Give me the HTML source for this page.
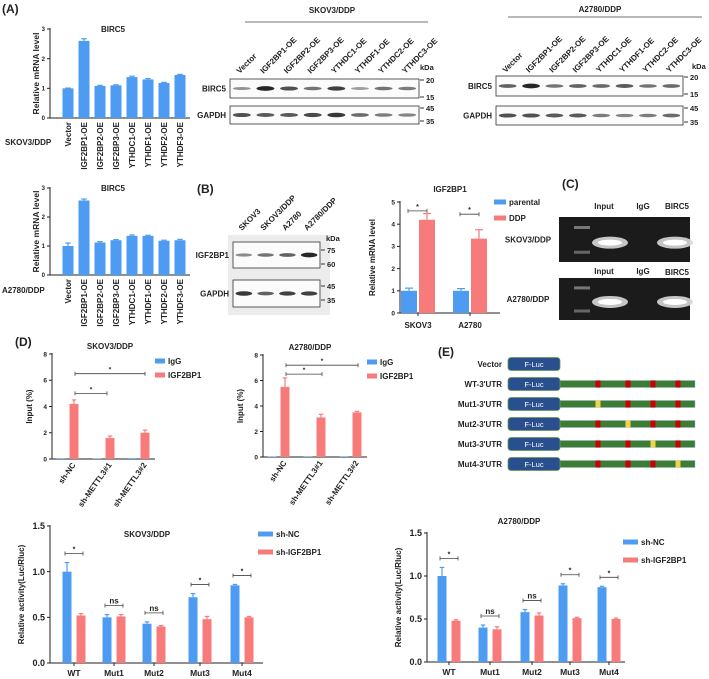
<!DOCTYPE html>
<html><head><meta charset="utf-8"><style>
html,body{margin:0;padding:0;background:#fff;}
svg{display:block;font-family:"Liberation Sans",Arial,sans-serif;}
text{font-weight:bold;fill:#222;}
</style></head><body>
<svg id="fig" width="709" height="679" viewBox="0 0 709 679" xmlns="http://www.w3.org/2000/svg">
<text x="2" y="13" font-size="12">(A)</text>
<text x="197" y="193" font-size="12" font-weight="normal">(B)</text>
<text x="562" y="188" font-size="12" font-weight="normal">(C)</text>
<text x="15" y="346" font-size="12" font-weight="normal">(D)</text>
<text x="438" y="356" font-size="12" font-weight="normal">(E)</text>
<text x="5" y="145" font-size="8">SKOV3/DDP</text>
<text x="2" y="293" font-size="8">A2780/DDP</text>
<g id="layer"></g>
</svg>
<script>
// ---- data ----
const aCats = ["Vector","IGF2BP1-OE","IGF2BP2-OE","IGF2BP3-OE","YTHDC1-OE","YTHDF1-OE","YTHDF2-OE","YTHDF3-OE"];
const aSkov = [1.0,2.6,1.08,1.1,1.38,1.3,1.18,1.45];
const aSkovErr = [0.01,0.07,0.02,0.02,0.03,0.03,0.02,0.02];
const aA2780 = [1.0,2.57,1.12,1.2,1.35,1.35,1.18,1.2];
const aA2780Err = [0.1,0.05,0.03,0.02,0.03,0.02,0.02,0.03];
const aTicks = [0,1,2,3];
const bCats = ["SKOV3","A2780"];
const bParental = [1.0,1.0];
const bParentalErr = [0.12,0.1];
const bDDP = [4.2,3.35];
const bDDPErr = [0.28,0.4];
const bTicks = [0,1,2,3,4,5];
const dCats = ["sh-NC","sh-METTL3#1","sh-METTL3#2"];
const dSkovIgG = [0.05,0.03,0.06];
const dSkovIGF = [4.2,1.6,2.0];
const dSkovIGFErr = [0.3,0.15,0.2];
const dA27IgG = [0.04,0.03,0.05];
const dA27IGF = [5.5,3.1,3.5];
const dA27IGFErr = [0.7,0.25,0.08];
const dTicks = [0,2,4,6,8];
const lCats = ["WT","Mut1","Mut2","Mut3","Mut4"];
const lSkovNC = [1.0,0.5,0.43,0.72,0.85];
const lSkovNCErr = [0.1,0.03,0.02,0.04,0.01];
const lSkovSh = [0.52,0.51,0.40,0.48,0.50];
const lSkovShErr = [0.02,0.02,0.01,0.03,0.01];
const lA27NC = [1.0,0.4,0.58,0.89,0.87];
const lA27NCErr = [0.1,0.03,0.03,0.02,0.01];
const lA27Sh = [0.48,0.38,0.54,0.51,0.50];
const lA27ShErr = [0.01,0.03,0.03,0.01,0.01];
const lTicks = [0.0,0.5,1.0,1.5];
const lSig = ["*","ns","ns","*","*"];

const NS="http://www.w3.org/2000/svg";
const layer=document.getElementById('layer');
const BLUE="#4d9cf2", RED="#f77b7b";
function mk(tag,attrs,parent){const e=document.createElementNS(NS,tag);for(const k in attrs)e.setAttribute(k,attrs[k]);(parent||layer).appendChild(e);return e;}
function txt(x,y,s,size,anchor,rot){const t=mk('text',{x:x,y:y,'font-size':size,'text-anchor':anchor||'start'});if(rot!==undefined)t.setAttribute('transform','rotate('+rot+' '+x+' '+y+')');t.textContent=s;return t;}

function axes(ax){
  const g=mk('g',{});
  
  
  mk('line',{x1:ax.x0,y1:ax.yTop-1,x2:ax.x0,y2:ax.yBot,stroke:'#222','stroke-width':1},g);
  mk('line',{x1:ax.x0,y1:ax.yBot,x2:ax.x1,y2:ax.yBot,stroke:'#222','stroke-width':1},g);
  ax.ticks.forEach(v=>{const y=ax.sy(v);mk('line',{x1:ax.x0-3,y1:y,x2:ax.x0,y2:y,stroke:'#222'},g);
    const t=txt(ax.x0-5,y+ax.tf*0.35,ax.fmt?ax.fmt(v):String(v),ax.tf,'end');g.appendChild(t);
    
    });
  const yl=txt(ax.ylx,(ax.yTop+ax.yBot)/2,ax.ylabel,ax.ylf,'middle',-90);
  
  
  const ti=txt(ax.tx,ax.ty,ax.title,ax.tif||8,'middle');
  
  
}
function scaleY(yTop,yBot,max){return v=>yBot-(v/max)*(yBot-yTop);}
function bar(cx,w,v,err,sy,col,name){
  const y=sy(v),y0=sy(0);
  const r=mk('rect',{x:cx-w/2,y:y,width:w,height:y0-y,fill:col});
  
  
  if(err){const ye=sy(v+err);mk('line',{x1:cx,y1:y,x2:cx,y2:ye,stroke:col,'stroke-width':1.2});mk('line',{x1:cx-w/4,y1:ye,x2:cx+w/4,y2:ye,stroke:col,'stroke-width':1.2});}
}
function sig(x1,x2,y,s,size){mk('line',{x1:x1,y1:y,x2:x2,y2:y,stroke:'#444','stroke-width':0.8});mk('line',{x1:x1,y1:y-2,x2:x1,y2:y+2,stroke:'#444','stroke-width':0.8});mk('line',{x1:x2,y1:y-2,x2:x2,y2:y+2,stroke:'#444','stroke-width':0.8});txt((x1+x2)/2,y-2,s,size||7,'middle');}
function legend(x,y,dy,items,fs,sw){items.forEach((it,i)=>{const r=mk('rect',{x:x,y:y+i*dy-2.5,width:sw||10,height:5,fill:it[1]});
  
  
  txt(x+(sw||10)+3,y+i*dy+fs*0.35,it[0],fs,'start');});}

// ---- Panel A mRNA charts ----
function chartA(vals,errs,yTop,yBot,name){
  const sy=scaleY(yTop,yBot,3);
  axes({name:name,x0:50,x1:190,yTop:yTop,yBot:yBot,sy:sy,ticks:aTicks,tf:6,ylabel:'Relative mRNA level',ylf:8.5,ylx:39,title:'BIRC5',tx:113,ty:yTop+3});
  aCats.forEach((c,i)=>{const cx=68+i*16;bar(cx,11,vals[i],errs[i],sy,BLUE,name+'-bar-'+c);
    const t=txt(cx+3,yBot+4,c,8,'end',-90);});
}
chartA(aSkov,aSkovErr,29,118,'a-skov3');
chartA(aA2780,aA2780Err,188,275,'a-a2780');

// ---- Western blots ----
function blot(bx,bw,rows,lanes,header,hx,hy,lx1,lx2,ly,kdx,kdy,laneY){
  if(header){txt(hx,hy,header,8,'middle');mk('line',{x1:lx1,y1:ly,x2:lx2,y2:ly,stroke:'#444','stroke-width':0.8});}
  const step=bw/lanes.length;
  lanes.forEach((l,i)=>{const x=bx+step*(i+0.5)-2;const t=txt(x,laneY,l,8,'start',-45);});
  txt(kdx,kdy,'kDa',7.5,'start');
  rows.forEach(r=>{const b=mk('rect',{x:bx,y:r.y,width:bw,height:r.h,fill:'#fbfbfb',stroke:'#333','stroke-width':0.8});
    
    
    txt(bx-4,r.y+r.h/2+3,r.name,8,'end');
    r.bands.forEach((d,i)=>{mk('ellipse',{cx:bx+step*(i+0.5),cy:r.y+r.h/2,rx:step*0.38,ry:1.2+d*1.2,fill:'rgb('+Math.round(200-d*170)+','+Math.round(200-d*170)+','+Math.round(200-d*170)+')'});});
    r.marks.forEach(m=>{mk('line',{x1:bx+bw+1,y1:m[1],x2:bx+bw+5,y2:m[1],stroke:'#333'});txt(bx+bw+7,m[1]+3,m[0],7.5,'start');});
  });
}
blot(230,189,[
 {name:'BIRC5',y:79,h:19,bands:[0.3,0.95,0.7,0.5,0.8,0.25,0.5,0.45],marks:[['20',80],['15',97]]},
 {name:'GAPDH',y:106,h:18,bands:[0.7,0.65,0.65,0.75,0.85,0.55,0.45,0.4],marks:[['45',108],['35',121]]}],
 ["Vector","IGF2BP1-OE","IGF2BP2-OE","IGF2BP3-OE","YTHDC1-OE","YTHDF1-OE","YTHDC2-OE","YTHDC3-OE"],
 'SKOV3/DDP',332,13,245,428,22,420,70,74);
blot(496,187,[
 {name:'BIRC5',y:76,h:20,bands:[0.6,0.95,0.5,0.6,0.55,0.65,0.5,0.55],marks:[['20',77],['15',94]]},
 {name:'GAPDH',y:106,h:19,bands:[0.7,0.7,0.65,0.65,0.45,0.4,0.45,0.55],marks:[['45',108],['35',122]]}],
 ["Vector","IGF2BP1-OE","IGF2BP2-OE","IGF2BP3-OE","YTHDC1-OE","YTHDF1-OE","YTHDC2-OE","YTHDC3-OE"],
 'A2780/DDP',600,12,508,702,17,692,69,73);

// ---- Panel B blot ----
mk('rect',{x:228,y:235,width:102,height:80,fill:'#ececec'});
blot(233,87,[
 {name:'IGF2BP1',y:242,h:26,bands:[0.35,0.5,0.6,0.95],marks:[['75',250],['60',264]]},
 {name:'GAPDH',y:280,h:27,bands:[0.85,0.6,0.8,0.8],marks:[['45',286],['35',300]]}],
 ["SKOV3","SKOV3/DDP","A2780","A2780/DDP"],'',0,0,0,0,0,326,241,231);

// ---- Panel B chart ----
(function(){
  const sy=scaleY(202,313,5);
  axes({name:'b-igf2bp1',x0:400,x1:500,yTop:202,yBot:313,sy:sy,ticks:bTicks,tf:6.5,ylabel:'Relative mRNA level',ylf:8,ylx:375,title:'IGF2BP1',tx:450,ty:192});
  const centers=[418,470];
  bCats.forEach((c,i)=>{bar(centers[i]-9,16,bParental[i],bParentalErr[i],sy,BLUE,'b-bar-parental-'+c);bar(centers[i]+9,16,bDDP[i],bDDPErr[i],sy,RED,'b-bar-ddp-'+c);
    mk('line',{x1:centers[i],y1:313,x2:centers[i],y2:316,stroke:'#222'});txt(centers[i],328,c,8,'middle');});
  sig(408,427,sy(4.6),'*');sig(460,479,sy(4.45),'*');
  legend(494,202,16,[['parental',BLUE],['DDP',RED]],8,12);
})();

// ---- Panel C gels ----
function gel(y,h,label,name){
  const g=mk('rect',{x:559,y:y,width:131,height:h,fill:'#1b1b1b'});
  
  
  mk('ellipse',{cx:610,cy:y+h*0.57,rx:18,ry:6,fill:'#d8d8d8',opacity:0.9});
  mk('ellipse',{cx:610,cy:y+h*0.57,rx:12,ry:3,fill:'#fff'});
  mk('ellipse',{cx:675,cy:y+h*0.57,rx:18,ry:6,fill:'#d8d8d8',opacity:0.9});
  mk('ellipse',{cx:675,cy:y+h*0.57,rx:12,ry:3,fill:'#fff'});
  mk('rect',{x:574,y:y+h*0.2,width:16,height:3,fill:'#777'});
  mk('rect',{x:574,y:y+h*0.75,width:16,height:3,fill:'#666'});
  txt(528,y+h/2+3,label,8,'middle');
}
txt(604,209,'Input',8,'middle');txt(643,209,'IgG',8,'middle');txt(677,209,'BIRC5',8,'middle');
gel(217,45,'SKOV3/DDP','gel-skov3');
txt(604,274,'Input',8,'middle');txt(643,274,'IgG',8,'middle');txt(677,275,'BIRC5',8,'middle');
gel(278,42,'A2780/DDP','gel-a2780');

// ---- Panel D RIP charts ----
function chartD(igg,igf,igfErr,x0,x1,yTop,yBot,centers,title,tx,legx,sigs,name){
  const sy=scaleY(yTop,yBot,8);
  axes({name:name,x0:x0,x1:x1,yTop:yTop,yBot:yBot,sy:sy,ticks:dTicks,tf:6.5,ylabel:'Input  (%)',ylf:8,ylx:x0-20,title:title,tx:tx,ty:yTop-5});
  dCats.forEach((c,i)=>{bar(centers[i]-7,9,igg[i],0,sy,BLUE,name+'-bar-igg-'+c);bar(centers[i]+6,9,igf[i],igfErr[i],sy,RED,name+'-bar-igf2bp1-'+c);
    const t=txt(centers[i]+8,yBot+6,c,8,'end',-55);});
  sigs.forEach(s=>sig(s[0],s[1],sy(s[2]),'*',6.5));
  legend(legx,yTop+7,14,[['IgG',BLUE],['IGF2BP1',RED]],8,10);
}
chartD(dSkovIgG,dSkovIGF,dSkovIGFErr,52,155,354,459,[68,104,139],'SKOV3/DDP',110,155,[[75,107,5.0],[75,145,6.5]],'d-skov3');
chartD(dA27IgG,dA27IGF,dA27IGFErr,263,367,355,457,[279,315,351],'A2780/DDP',310,367,[[286,322,6.5],[286,358,7.2]],'d-a2780');

// ---- Panel E constructs ----
const eRows=["Vector","WT-3'UTR","Mut1-3'UTR","Mut2-3'UTR","Mut3-3'UTR","Mut4-3'UTR"];
const eSites=[598,628,653,678];
eRows.forEach((r,i)=>{const y=364+i*20;
  txt(502,y+3,r,8,'end');
  if(i>0){mk('rect',{x:558,y:y-3.5,width:137,height:7,fill:'#3e7d2f',stroke:'#8fb2e0','stroke-width':0.5});
    eSites.forEach((sx,j)=>{mk('rect',{x:sx-2.5,y:y-3.5,width:5,height:7,fill:(i-2===j)?'#f2d24a':'#cc0000'});});}
  const b=mk('rect',{x:508,y:y-6.5,width:52,height:13,rx:3,fill:'#2a4f8f',stroke:'#6a9a4f','stroke-width':0.8});
  
  
  const t=txt(534,y+3,'F-Luc',7.5,'middle');t.setAttribute('fill','#fff');t.style.fill='#fff';t.style.fontWeight='normal';
});

// ---- Luciferase charts ----
function chartL(nc,ncErr,sh,shErr,x0,x1,yTop,yBot,centers,title,tx,ty,legx,legy,name){
  const sy=scaleY(yTop,yBot,1.5);
  axes({name:name,x0:x0,x1:x1,yTop:yTop,yBot:yBot,sy:sy,ticks:lTicks,tf:9,fmt:v=>v.toFixed(1),ylabel:'Relative activity(Luc/Rluc)',ylf:8,ylx:x0-26,title:title,tx:tx,ty:ty});
  lCats.forEach((c,i)=>{const cx=centers[i];
    bar(cx-7,9,nc[i],ncErr[i],sy,BLUE,name+'-bar-shnc-'+c);bar(cx+7,9,sh[i],shErr[i],sy,RED,name+'-bar-shigf2bp1-'+c);
    mk('line',{x1:cx,y1:yBot,x2:cx,y2:yBot+3,stroke:'#222'});txt(cx,yBot+13,c,8.5,'middle');
    const top=Math.max(nc[i]+ncErr[i],sh[i]+shErr[i]);sig(cx-9,cx+9,sy(top)-9,lSig[i],lSig[i]==='ns'?8:7);});
  legend(legx,legy,18,[['sh-NC',BLUE],['sh-IGF2BP1',RED]],8,15);
}
chartL(lSkovNC,lSkovNCErr,lSkovSh,lSkovShErr,50,263,526,663,[74,114,154,200,242],'SKOV3/DDP',147,537,258,534,'luc-skov3');
chartL(lA27NC,lA27NCErr,lA27Sh,lA27ShErr,427,625,533,662,[449,490,532,570,609],'A2780/DDP',519,524,623,542,'luc-a2780');
</script>
</body></html>
